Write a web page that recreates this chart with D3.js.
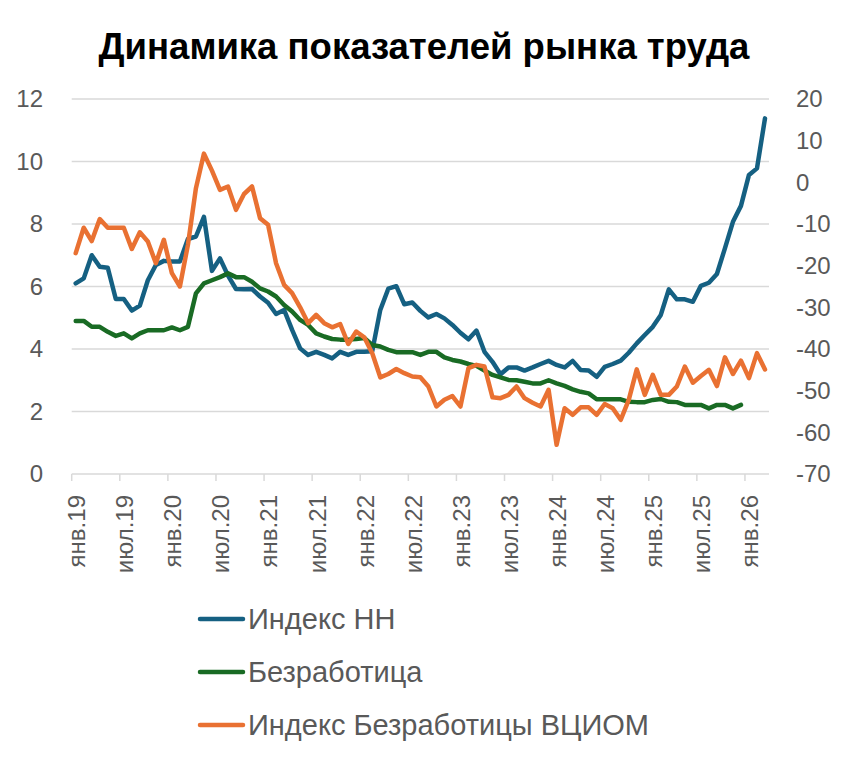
<!DOCTYPE html>
<html>
<head>
<meta charset="utf-8">
<script src="https://cdn.jsdelivr.net/npm/d3@7"></script>
<style>
  html, body { margin: 0; padding: 0; background: #fff; }
  text { font-family: "Liberation Sans", Arial, sans-serif; }
</style>
</head>
<body>
<div id="chart" width="849" height="762"></div>
<script>
// Заголовок и подписи
const chart_title = "Динамика показателей рынка труда";
const series_names = ["Индекс НН", "Безработица", "Индекс Безработицы ВЦИОМ"];

// Категории: помесячно с янв.2019 по мар.2026
const month_names = ["янв", "фев", "мар", "апр", "май", "июн", "июл", "авг", "сен", "окт", "ноя", "дек"];
const years = ["19", "20", "21", "22", "23", "24", "25", "26"];
const last_month_26 = 3;
const categories = [];
years.forEach(function(y){
    const n = (y === "26") ? last_month_26 : 12;
    for( let m=0; m<n; m++ ){
        categories.push(month_names[m] + "." + y);
    }
});

// Подписи оси X (каждые 6 месяцев)
const tick_labels = ["янв.19", "июл.19", "янв.20", "июл.20", "янв.21", "июл.21", "янв.22", "июл.22",
                     "янв.23", "июл.23", "янв.24", "июл.24", "янв.25", "июл.25", "янв.26"];
// Деления осей
const left_ticks = [0, 2, 4, 6, 8, 10, 12];
const right_ticks = [-70, -60, -50, -40, -30, -20, -10, 0, 10, 20];

// Индекс НН (левая ось)
const hh_index = [
    6.1, 6.26, 7.0, 6.63, 6.6, 5.6, 5.6, 5.23, 5.39, 6.2, 6.69, 6.82,
    6.8, 6.8, 7.52, 7.6, 8.23, 6.5, 6.9, 6.35, 5.92, 5.91, 5.92, 5.68,
    5.48, 5.12, 5.25, 4.61, 4.02, 3.81, 3.91, 3.81, 3.7, 3.91, 3.81, 3.91,
    3.91, 3.93, 5.25, 5.93, 6.01, 5.43, 5.49, 5.22, 5.01, 5.12, 4.98, 4.77,
    4.52, 4.31, 4.59, 3.91, 3.59, 3.19, 3.41, 3.41, 3.31, 3.41, 3.52, 3.62,
    3.49, 3.41, 3.62, 3.33, 3.31, 3.11, 3.43, 3.52, 3.63, 3.88, 4.18, 4.45,
    4.71, 5.09, 5.91, 5.59, 5.59, 5.51, 6.02, 6.12, 6.4, 7.22, 8.07, 8.58,
    9.57, 9.78, 11.38
];
// Безработица (левая ось)
const unemployment = [
    4.9, 4.9, 4.71, 4.71, 4.55, 4.42, 4.5, 4.34, 4.5, 4.6, 4.6, 4.6,
    4.69, 4.6, 4.71, 5.78, 6.1, 6.2, 6.3, 6.42, 6.3, 6.3, 6.15, 5.94,
    5.84, 5.68, 5.41, 5.2, 4.93, 4.77, 4.5, 4.4, 4.32, 4.3, 4.3, 4.32,
    4.35, 4.13, 4.08, 3.97, 3.9, 3.9, 3.9, 3.81, 3.91, 3.91, 3.73, 3.65,
    3.6, 3.52, 3.46, 3.31, 3.17, 3.09, 3.01, 3.0, 2.95, 2.9, 2.9, 3.0,
    2.9, 2.82, 2.71, 2.63, 2.58, 2.39, 2.39, 2.39, 2.39, 2.31, 2.3, 2.3,
    2.37, 2.4, 2.31, 2.3, 2.21, 2.21, 2.21, 2.1, 2.21, 2.21, 2.1, 2.21,
    null, null, null
];
// Индекс безработицы ВЦИОМ (правая ось)
const vciom_index = [
    -17.0, -10.9, -14.1, -8.8, -10.9, -10.9, -10.9, -16.0, -12.0, -14.2, -19.4, -13.8,
    -21.8, -25.0, -15.0, -1.4, 6.9, 2.8, -1.8, -1.0, -6.6, -2.8, -1.0, -8.6,
    -10.2, -19.4, -24.6, -26.6, -30.0, -33.8, -31.8, -33.8, -34.8, -34.0, -38.8, -35.8,
    -37.2, -41.0, -46.8, -46.0, -44.8, -45.8, -46.6, -46.8, -49.0, -53.8, -52.2, -51.3,
    -53.8, -44.6, -43.8, -44.2, -51.6, -51.8, -51.0, -49.0, -51.8, -52.9, -53.8, -49.8,
    -63.0, -54.2, -55.8, -54.0, -54.0, -55.8, -53.2, -54.2, -57.0, -52.2, -44.9, -51.0,
    -46.2, -51.0, -51.0, -49.0, -44.2, -48.1, -46.5, -45.0, -48.9, -42.0, -46.0, -42.8,
    -47.0, -41.0, -44.9
];

function draw_chart(id){
    // Размеры
    const width = 849;
    const height = 762;
    // Область построения
    const plot_left = 71.7;
    const plot_right = 769;
    const plot_top = 99;
    const plot_bottom = 474;
    // Цвета
    const colors = ["#156082", "#196b24", "#e97132"];
    const text_color = "#595959";
    const grid_color = "#d9d9d9";
    const line_width = 4.5;

    const svg = d3.select(id).append("svg")
        .attr("width", width)
        .attr("height", height)
    ;

    // Шкалы
    const x = d3.scaleBand()
        .domain(categories)
        .range([plot_left, plot_right])
        .padding(0)
    ;
    const y_left = d3.scaleLinear().domain([0, 12]).range([plot_bottom, plot_top]);
    const y_right = d3.scaleLinear().domain([-70, 20]).range([plot_bottom, plot_top]);
    const cx = function(c){ return x(c) + x.bandwidth()/2; };

    // Заголовок
    svg.append("text")
        .attr("x", 424)
        .attr("y", 59)
        .attr("text-anchor", "middle")
        .attr("font-size", 36.5)
        .attr("font-weight", "bold")
        .attr("fill", "#000")
        .text(chart_title)
    ;

    // Сетка
    svg.append("g")
        .selectAll("line.grid")
        .data(left_ticks)
        .enter()
        .append("line")
        .attr("class", "grid")
        .attr("x1", plot_left)
        .attr("x2", plot_right)
        .attr("y1", function(d){ return y_left(d); })
        .attr("y2", function(d){ return y_left(d); })
        .attr("stroke", grid_color)
        .attr("stroke-width", 1.5)
    ;

    // Левая ось
    svg.append("g")
        .selectAll("text")
        .data(left_ticks)
        .enter()
        .append("text")
        .attr("x", 43)
        .attr("y", function(d){ return y_left(d); })
        .attr("dy", "0.35em")
        .attr("text-anchor", "end")
        .attr("font-size", 24)
        .attr("fill", text_color)
        .text(function(d){ return d; })
    ;

    // Правая ось
    svg.append("g")
        .selectAll("text")
        .data(right_ticks)
        .enter()
        .append("text")
        .attr("x", 796)
        .attr("y", function(d){ return y_right(d); })
        .attr("dy", "0.35em")
        .attr("text-anchor", "start")
        .attr("font-size", 24)
        .attr("fill", text_color)
        .text(function(d){ return d; })
    ;

    // Ось X: деления на границах категорий
    svg.append("g")
        .selectAll("line.tick")
        .data(tick_labels)
        .enter()
        .append("line")
        .attr("class", "tick")
        .attr("x1", function(d){ return x(d); })
        .attr("x2", function(d){ return x(d); })
        .attr("y1", plot_bottom)
        .attr("y2", plot_bottom + 7)
        .attr("stroke", grid_color)
        .attr("stroke-width", 1.5)
    ;
    svg.append("g")
        .selectAll("text.tick_label")
        .data(tick_labels)
        .enter()
        .append("text")
        .attr("class", "tick_label")
        .attr("transform", function(d){ return "translate(" + (cx(d) + 1) + "," + (plot_bottom + 21) + ") rotate(-90)"; })
        .attr("dy", "0.35em")
        .attr("text-anchor", "end")
        .attr("font-size", 24)
        .attr("fill", text_color)
        .text(function(d){ return d; })
    ;

    // Линии рядов
    const series = [
        { values: hh_index, scale: y_left },
        { values: unemployment, scale: y_left },
        { values: vciom_index, scale: y_right }
    ];
    series.forEach(function(s, k){
        const line = d3.line()
            .defined(function(d){ return d !== null; })
            .x(function(d, i){ return cx(categories[i]); })
            .y(function(d){ return s.scale(d); })
        ;
        svg.append("path")
            .datum(s.values)
            .attr("d", line)
            .attr("fill", "none")
            .attr("stroke", colors[k])
            .attr("stroke-width", line_width)
            .attr("stroke-linejoin", "round")
            .attr("stroke-linecap", "round")
        ;
    });

    // Легенда
    const legend = svg.append("g")
        .selectAll("g")
        .data(series_names)
        .enter()
        .append("g")
        .attr("transform", function(d, i){ return "translate(200," + (619 + i*53) + ")"; })
    ;
    legend.append("line")
        .attr("x1", 0)
        .attr("x2", 43)
        .attr("stroke", function(d, i){ return colors[i]; })
        .attr("stroke-width", line_width)
        .attr("stroke-linecap", "round")
    ;
    legend.append("text")
        .attr("x", 48)
        .attr("y", 10)
        .attr("font-size", 29)
        .attr("fill", text_color)
        .text(function(d){ return d; })
    ;
}

draw_chart("#chart");
</script>
</body>
</html>
